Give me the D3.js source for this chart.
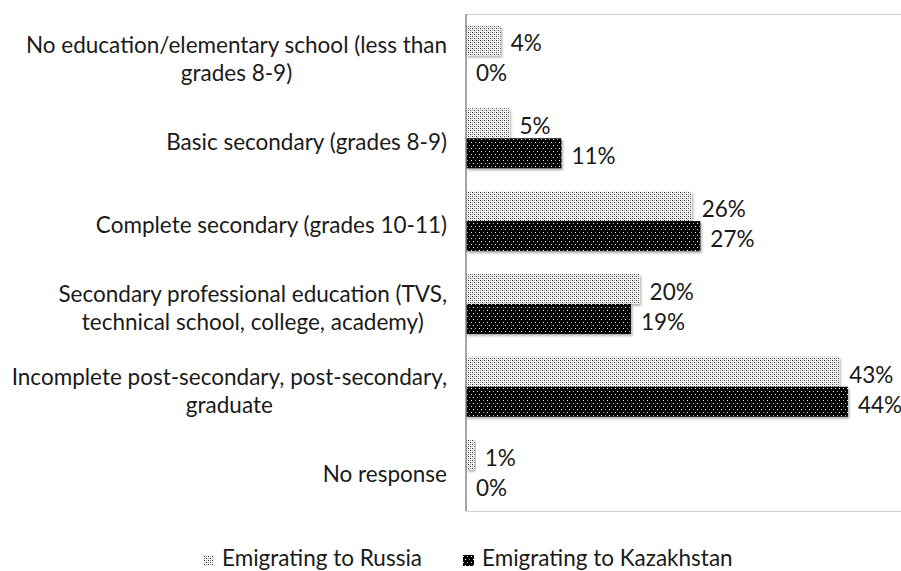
<!DOCTYPE html>
<html><head><meta charset="utf-8">
<script src="https://cdn.jsdelivr.net/npm/d3@7"></script>
<style>body{margin:0;background:#fff}svg{display:block}text{font-family:Lato,"Open Sans",sans-serif;fill:#1a1a1a}</style>
</head><body>
<script>
const categories = [
  ["No education/elementary school (less than", "grades 8-9)"],
  ["Basic secondary (grades 8-9)"],
  ["Complete secondary (grades 10-11)"],
  ["Secondary professional education (TVS,", "technical school, college, academy)"],
  ["Incomplete post-secondary, post-secondary,", "graduate"],
  ["No response"]
];
const seriesNames = ["Emigrating to Russia", "Emigrating to Kazakhstan"];
const russia = [4, 5, 26, 20, 43, 1];
const kazakhstan = [0, 11, 27, 19, 44, 0];

const W = 901, H = 571;
const svg = d3.select("body").append("svg").attr("width", W).attr("height", H);
const defs = svg.append("defs");

// patterns
const pR = defs.append("pattern").attr("id","patR").attr("patternUnits","userSpaceOnUse").attr("width",4).attr("height",4);
pR.append("rect").attr("width",4).attr("height",4).attr("fill","#fff");
[[0,0,"#333"],[2,0,"#999"],[0,2,"#999"],[2,2,"#333"],[1,1,"#ddd"],[3,3,"#ddd"]].forEach(([x,y,c])=>pR.append("rect").attr("x",x).attr("y",y).attr("width",1).attr("height",1).attr("fill",c));
const pK = defs.append("pattern").attr("id","patK").attr("patternUnits","userSpaceOnUse").attr("width",8).attr("height",6);
pK.append("rect").attr("width",8).attr("height",6).attr("fill","#000");
[[1,1,"#fff"],[5,1,"#999"],[3,4,"#999"],[7,4,"#fff"]].forEach(([x,y,c])=>pK.append("rect").attr("x",x).attr("y",y).attr("width",1).attr("height",1).attr("fill",c));
const f = defs.append("filter").attr("id","shadow").attr("x","-5%").attr("y","-10%").attr("width","115%").attr("height","140%");
f.append("feDropShadow").attr("dx",1.5).attr("dy",2).attr("stdDeviation",1.2).attr("flood-color","#000").attr("flood-opacity",0.3);

const FS = 22.5;
const x0 = 466, x1 = 900, yTop = 14, yBot = 511;
const x = d3.scaleLinear().domain([0, 0.5]).range([x0, x1]);
const y = d3.scaleBand().domain(d3.range(categories.length)).range([yTop, yBot]).paddingInner(0.275).paddingOuter(0.1375);
const sub = d3.scaleBand().domain([0,1]).range([0, y.bandwidth()]);

// plot frame
svg.append("line").attr("x1",x0).attr("x2",W).attr("y1",yTop+0.5).attr("y2",yTop+0.5).attr("stroke","#d0d0d0");
svg.append("line").attr("x1",x0).attr("x2",W).attr("y1",yBot+0.5).attr("y2",yBot+0.5).attr("stroke","#d0d0d0");

const series = [
  {values: russia, fill: "url(#patR)"},
  {values: kazakhstan, fill: "url(#patK)"}
];
series.forEach((s, si) => {
  const g = svg.append("g");
  g.selectAll("rect").data(s.values).join("rect")
    .attr("x", x(0))
    .attr("y", (d,i) => y(i) + sub(si))
    .attr("width", d => x(d/100) - x(0))
    .attr("height", sub.bandwidth())
    .attr("fill", s.fill)
    .attr("filter", d => d > 0 ? "url(#shadow)" : null);
  g.selectAll("text").data(s.values).join("text")
    .attr("x", d => x(d/100) + 10)
    .attr("y", (d,i) => y(i) + sub(si) + sub.bandwidth()/2 + 11)
    .attr("font-size", FS)
    .text(d => d + "%");
});

// left axis line
const axis = d3.axisLeft(y).tickSize(0).tickFormat("");
svg.append("g").attr("transform",`translate(${x0},0)`).call(axis)
  .call(g => g.select(".domain").attr("stroke","#888").attr("stroke-width",1.5).attr("d",`M0,${yTop}V${yBot}`));

// category labels
const labelRight = 447;
categories.forEach((lines, i) => {
  const cy = y(i) + y.bandwidth()/2 + 12;
  const t = svg.append("text").attr("font-size", FS).attr("text-anchor","middle");
  const n = lines.length;
  const spans = lines.map((ln, k) => t.append("tspan").attr("y", cy + (k - (n-1)/2) * 28).text(ln));
  const maxW = d3.max(spans, s => s.node().getComputedTextLength());
  spans.forEach(s => s.attr("x", labelRight - maxW/2));
});

// legend
const legend = [{x: 203, fill: "url(#patR)"}, {x: 463, fill: "url(#patK)"}];
legend.forEach((l, i) => {
  svg.append("rect").attr("x", l.x).attr("y", 555).attr("width", 11).attr("height", 11).attr("fill", l.fill);
  svg.append("text").attr("x", l.x + 19).attr("y", 566).attr("font-size", FS).text(seriesNames[i]);
});
</script>
</body></html>
